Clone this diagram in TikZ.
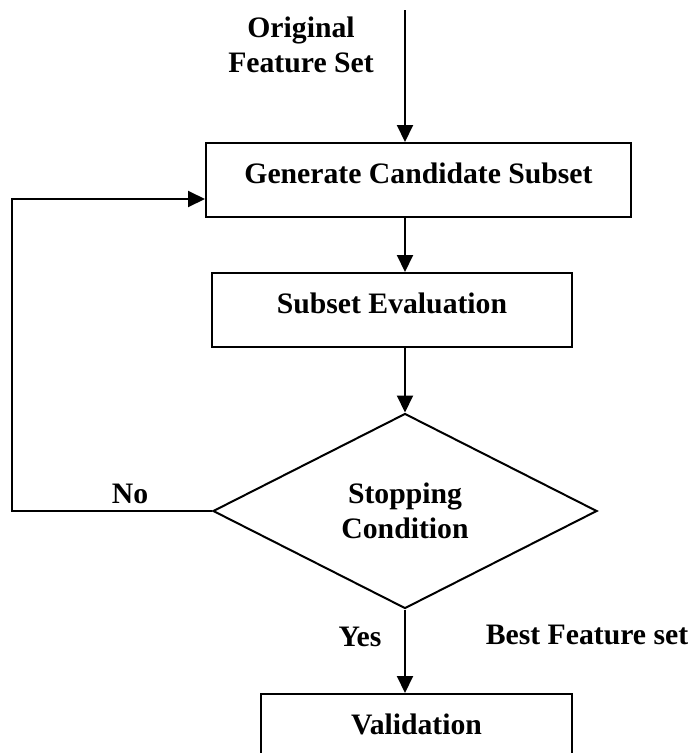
\documentclass[tikz,border=0pt]{standalone}
\usepackage{fontspec}
\setmainfont{Liberation Serif}
\usetikzlibrary{arrows.meta,shapes.geometric}

\tikzset{
  flowbox/.style={draw=black, line width=2pt, inner sep=0pt},
  boxtext/.style={text height=20pt, text depth=14pt},
  flowarrow/.style={line width=2pt, -{Triangle[length=17pt,width=16pt]}},
  flowlabel/.style={align=center, inner sep=0pt}
}

\begin{document}
\begin{tikzpicture}[x=1pt, y=-1pt, every node/.style={font=\fontsize{29.7}{35}\selectfont\bfseries}]
      % Page frame, the last box runs off the bottom edge
      \useasboundingbox (0,0) rectangle (694,753);
      \clip (0,0) rectangle (694,753);

      % Input and its label
      \coordinate (src) at (405,10);
      \node[flowlabel] (orig) at (301,45) {Original\\Feature Set};

      % Boxes and decision
      \node[flowbox, boxtext, minimum width=425pt, minimum height=74pt] (gen) at (418.5,180) {Generate Candidate Subset};
      \node[flowbox, boxtext, minimum width=360pt, minimum height=74pt] (eval) at (392,310) {Subset Evaluation};
      \node[flowbox, shape=diamond, align=center, minimum width=384pt, minimum height=195pt] (stop) at (405,511) {Stopping\\Condition};
      \node[flowbox, boxtext, minimum width=311pt, minimum height=74pt] (valid) at (416.5,731) {Validation};

      % Edge labels
      \node[flowlabel] (no) at (130,494) {No};
      \node[flowlabel] (yes) at (360,637) {Yes};
      \node[flowlabel] (best) at (587,635) {Best Feature set};

      % Arrows down the middle
      \draw[flowarrow] (src) -- (gen.north -| stop.north);
      \draw[flowarrow] (gen.south -| stop.north) -- (eval.north -| stop.north);
      \draw[flowarrow] (eval.south -| stop.north) -- (stop.north);
      \draw[flowarrow] (stop.south) -- (valid.north -| stop.south);

      % Loop back on No
      \coordinate (back) at (12,199);
      \draw[flowarrow] (stop.west) -| (back) -- (gen.west |- back);
\end{tikzpicture}
\end{document}
